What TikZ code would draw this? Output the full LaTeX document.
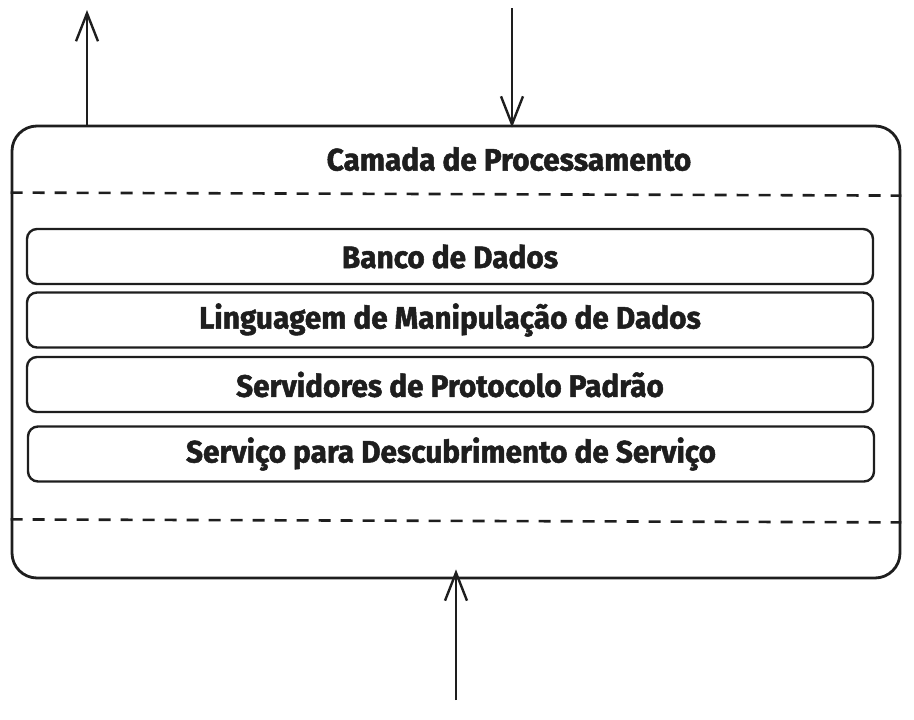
\documentclass[tikz,border=0pt]{standalone}
\usepackage{fontspec}
\setmainfont{Fira Sans}[BoldFeatures={FakeBold=1.6,FakeStretch=0.96}]
\usetikzlibrary{arrows.meta,positioning}
\definecolor{tinta}{HTML}{1E1E1E}

\begin{document}
\begin{tikzpicture}[
            x=1pt, y=-1pt,
            every node/.style={text=tinta, font=\fontsize{31}{34}\selectfont\bfseries},
            outer/.style={draw=tinta, line width=2.8pt, rounded corners=25pt, inner sep=0pt},
            camadabox/.style={draw=tinta, line width=2.4pt, rounded corners=10pt,
                    minimum width=846pt, minimum height=55pt, inner sep=0pt},
            divisor/.style={draw=tinta, line width=2.6pt, dash pattern=on 12pt off 10pt},
            seta/.style={draw=tinta, line width=2.4pt, -{Straight Barb[length=28pt,width=22pt,line width=2.4pt]}}
        ]
        \useasboundingbox (0,0) rectangle (914,720);

        \node[outer, minimum width=888pt, minimum height=452pt] (camada) at (456,352) {};
        \node (titulo) at (509,159) {Camada de Processamento};

        \draw[divisor] ([yshift=-68pt]camada.north west) -- ([yshift=-71pt]camada.north east);
        \draw[divisor] ([yshift=60pt]camada.south west) -- ([yshift=57pt]camada.south east);

        \node[camadabox] (banco) at (450,256.5) {Banco de Dados};
        \node[camadabox] (linguagem) at (450,320) {Linguagem de Manipulação de Dados};
        \node[camadabox] (servidores) at (450,384.5) {Servidores de Protocolo Padrão};
        \node[camadabox] (descoberta) at (451,454) {Serviço para Descubrimento de Serviço};

        \coordinate (saida) at (87,10);
        \coordinate (entrada) at (512,8);
        \coordinate (base) at (456,700);
        \draw[seta] (saida |- camada.north) -- (saida);
        \draw[seta] (entrada) -- ([yshift=-3pt]entrada |- camada.north);
        \draw[seta] (base) -- ([yshift=10pt]camada.south);

    \end{tikzpicture}
\end{document}
